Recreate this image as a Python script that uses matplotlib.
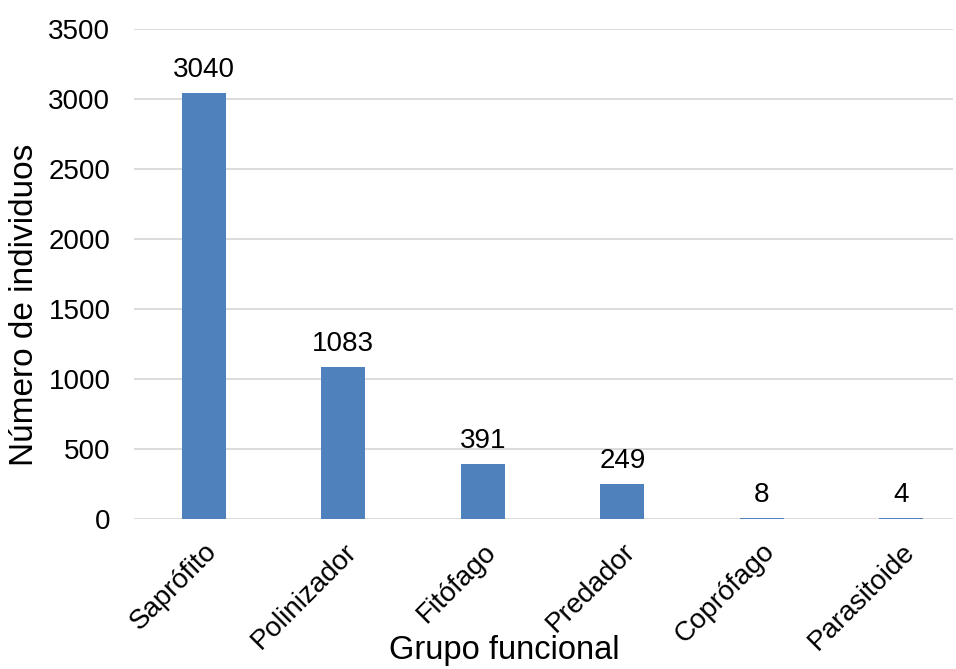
import matplotlib.pyplot as plt

plt.rcParams['font.family'] = ['Liberation Sans', 'DejaVu Sans']

grupos = ['Saprófito', 'Polinizador', 'Fitófago', 'Predador', 'Coprófago', 'Parasitoide']
individuos = [3040, 1083, 391, 249, 8, 4]
yticks = [0, 500, 1000, 1500, 2000, 2500, 3000, 3500]

W, H = 956, 669
fig = plt.figure(figsize=(W / 100, H / 100), dpi=100)
ax = fig.add_axes([134 / W, 1 - 519 / H, (953 - 134) / W, (519 - 29) / H])

x = range(len(grupos))
bars = ax.bar(x, individuos, width=0.315, color='#4F81BD', zorder=3)

# value labels above each bar
for b, v in zip(bars, individuos):
    ax.annotate(str(v), (b.get_x() + b.get_width() / 2, v), xytext=(0, 11.5),
                textcoords='offset points', ha='center', va='baseline', fontsize=20)

ax.set_ylim(0, 3500)
ax.set_yticks(yticks)
ax.set_xlim(-0.5, 5.37)
ax.set_xticks(list(x))
ax.set_xticklabels(grupos, rotation=45, ha='right', rotation_mode='anchor', fontsize=20)
ax.tick_params(axis='y', labelsize=20, length=0, pad=17)
ax.tick_params(axis='x', length=0, pad=14)
ax.grid(axis='y', color='#D9D9D9', linewidth=1.3, zorder=0)
for s in ax.spines.values():
    s.set_visible(False)

fig.text(25 / W, 1 - 305 / H, 'Número de individuos', rotation=90,
         ha='center', va='center', fontsize=24)
fig.text(504 / W, 1 - 650 / H, 'Grupo funcional', ha='center', va='center', fontsize=23.5)

fig.savefig('out.png', dpi=100)
